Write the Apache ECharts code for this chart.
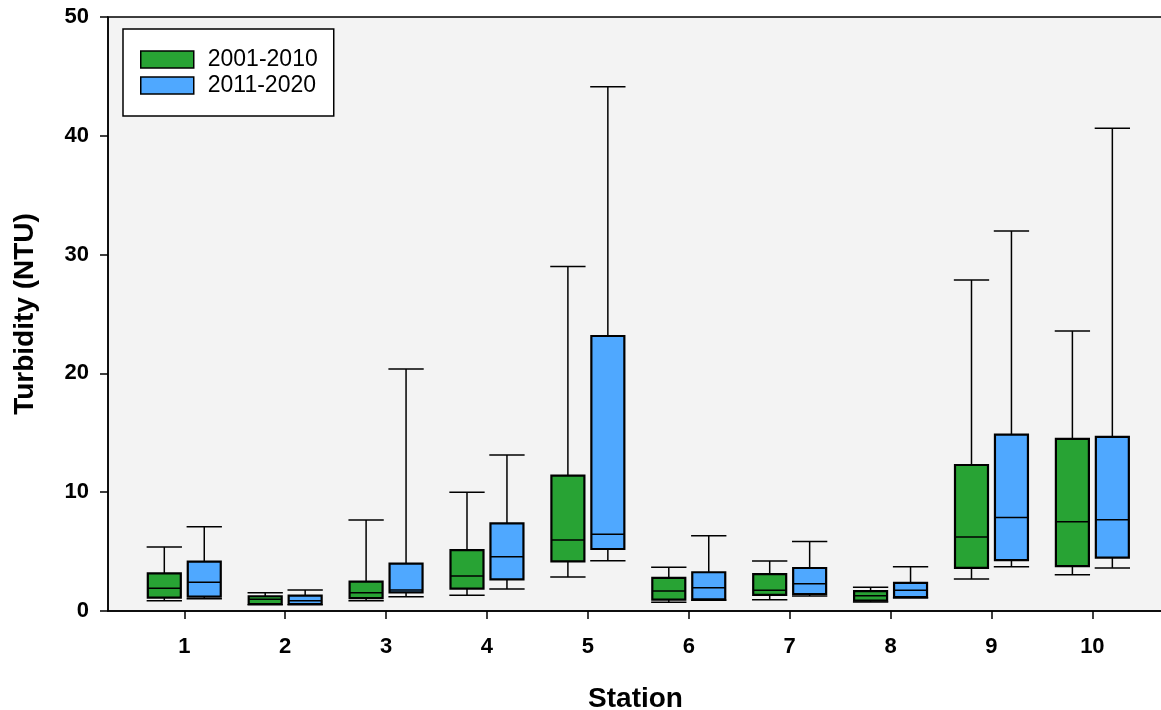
<!DOCTYPE html>
<html>
<head>
<meta charset="utf-8">
<script src="https://cdn.jsdelivr.net/npm/echarts@6/dist/echarts.min.js"></script>
<style>
  html, body { margin: 0; padding: 0; background: #fff; }
  #chart { width: 1161px; height: 710px; }
</style>
</head>
<body>
<div id="chart"></div>
<script>
// station numbers on the x axis
const stations = [1, 2, 3, 4, 5, 6, 7, 8, 9, 10];
const seriesNames = ["2001-2010", "2011-2020"];
const seriesColors = ["#28a334", "#4fa8ff"];
const yTicks = [0, 10, 20, 30, 40, 50];

// [min, q1, median, q3, max] per station
const boxes2001 = [
  [0.87, 1.12, 1.91, 3.17, 5.39],
  [0.53, 0.59, 0.98, 1.24, 1.54],
  [0.87, 1.09, 1.54, 2.47, 7.66],
  [1.32, 1.88, 2.95, 5.13, 9.99],
  [2.86, 4.18, 5.98, 11.39, 29.0],
  [0.73, 0.95, 1.68, 2.78, 3.68],
  [0.95, 1.35, 1.74, 3.11, 4.21],
  [0.76, 0.87, 1.29, 1.68, 1.99],
  [2.70, 3.63, 6.22, 12.29, 27.86],
  [3.06, 3.78, 7.51, 14.49, 23.56],
];
const boxes2011 = [
  [1.04, 1.21, 2.41, 4.15, 7.10],
  [0.53, 0.59, 0.87, 1.29, 1.77],
  [1.21, 1.57, 1.77, 3.98, 20.37],
  [1.85, 2.67, 4.57, 7.38, 13.13],
  [4.24, 5.22, 6.46, 23.15, 44.13],
  [0.90, 0.98, 1.96, 3.26, 6.34],
  [1.26, 1.43, 2.30, 3.62, 5.84],
  [1.09, 1.18, 1.74, 2.36, 3.73],
  [3.72, 4.29, 7.87, 14.85, 31.98],
  [3.63, 4.50, 7.69, 14.66, 40.64],
];

const FONT = "'Liberation Sans', Arial, sans-serif";
const boxWidth = 0.327;
const capWidth = 0.35;

const makeRenderer = (offset, color) => (params, api) => {
  const x = api.value(0) + offset;
  const [lo, q1, med, q3, hi] = [1, 2, 3, 4, 5].map((i) => api.value(i));
  const half = api.size([boxWidth, 0])[0] / 2;
  const capHalf = api.size([capWidth, 0])[0] / 2;
  const p = (v) => api.coord([x, v]);
  const line = (x1, y1, x2, y2, w) => ({
    type: "line",
    shape: { x1, y1, x2, y2 },
    style: { stroke: "#000", lineWidth: w },
  });
  const pLo = p(lo), pQ1 = p(q1), pMed = p(med), pQ3 = p(q3), pHi = p(hi);
  const cx = pMed[0];
  return {
    type: "group",
    children: [
      line(cx, pHi[1], cx, pQ3[1], 1.5),
      line(cx, pQ1[1], cx, pLo[1], 1.5),
      line(cx - capHalf, pHi[1], cx + capHalf, pHi[1], 1.5),
      line(cx - capHalf, pLo[1], cx + capHalf, pLo[1], 1.5),
      {
        type: "rect",
        shape: { x: cx - half, y: pQ3[1], width: half * 2, height: pQ1[1] - pQ3[1] },
        style: { fill: color, stroke: "#000", lineWidth: 2.2 },
      },
      line(cx - half, pMed[1], cx + half, pMed[1], 1.5),
    ],
  };
};

const chart = echarts.init(document.getElementById("chart"));
chart.setOption({
  animation: false,
  textStyle: { fontFamily: FONT },
  legend: {
    left: 123,
    top: 29,
    orient: "vertical",
    icon: "rect",
    itemWidth: 53,
    itemHeight: 17,
    itemGap: 3,
    padding: [19, 16, 19, 17],
    backgroundColor: "#fff",
    borderColor: "#000",
    borderWidth: 1.5,
    borderRadius: 0,
    textStyle: { fontSize: 23, color: "#000", fontFamily: FONT, lineHeight: 23, padding: [0, 0, 0, 9] },
    data: seriesNames.map((name, i) => ({
      name,
      itemStyle: { color: seriesColors[i], borderColor: "#000", borderWidth: 1.5 },
    })),
  },
  grid: {
    left: 108,
    right: -2,
    top: 17,
    bottom: 99,
    outerBoundsMode: "none",
    containLabel: false,
    show: true,
    backgroundColor: "#f3f3f3",
    borderColor: "#000",
    borderWidth: 1.5,
  },
  xAxis: {
    type: "value",
    min: 0.244,
    max: 10.7,
    name: "Station",
    nameLocation: "middle",
    nameGap: 74,
    nameTextStyle: { fontSize: 28, fontWeight: "bold", color: "#000", fontFamily: FONT },
    axisLine: { lineStyle: { color: "#000", width: 1.5 } },
    axisTick: { customValues: stations, length: 8, lineStyle: { color: "#000", width: 1.5 } },
    axisLabel: {
      customValues: stations,
      margin: 25,
      fontSize: 22,
      fontWeight: "bold",
      color: "#000",
      fontFamily: FONT,
    },
    splitLine: { show: false },
  },
  yAxis: {
    type: "value",
    min: 0,
    max: 50,
    interval: 10,
    name: "Turbidity (NTU)",
    nameLocation: "middle",
    nameGap: 69,
    nameTextStyle: { fontSize: 28, fontWeight: "bold", color: "#000", fontFamily: FONT },
    axisLine: { show: true, lineStyle: { color: "#000", width: 1.5 } },
    axisTick: { show: true, length: 8, lineStyle: { color: "#000", width: 1.5 } },
    axisLabel: {
      margin: 19,
      fontSize: 22,
      fontWeight: "bold",
      color: "#000",
      fontFamily: FONT,
      customValues: yTicks,
    },
    splitLine: { show: false },
  },
  series: [
    {
      name: seriesNames[0],
      type: "custom",
      itemStyle: { color: seriesColors[0], borderColor: "#000" },
      encode: { x: 0, y: [1, 2, 3, 4, 5] },
      renderItem: makeRenderer(-0.198, seriesColors[0]),
      data: stations.map((s, i) => [s, ...boxes2001[i]]),
    },
    {
      name: seriesNames[1],
      type: "custom",
      itemStyle: { color: seriesColors[1], borderColor: "#000" },
      encode: { x: 0, y: [1, 2, 3, 4, 5] },
      renderItem: makeRenderer(0.198, seriesColors[1]),
      data: stations.map((s, i) => [s, ...boxes2011[i]]),
    },
  ],
});
</script>
</body>
</html>
